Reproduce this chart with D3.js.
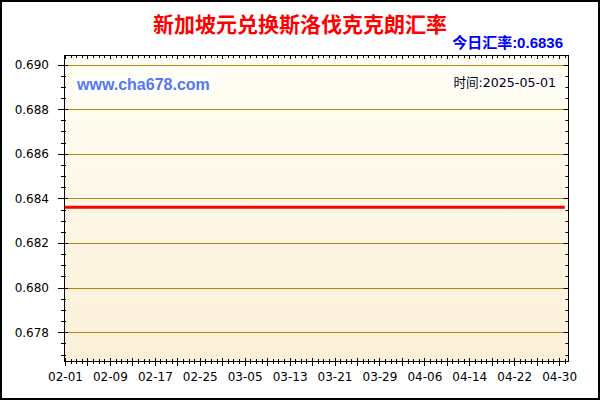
<!DOCTYPE html>
<html>
<head>
<meta charset="utf-8">
<script src="https://cdn.jsdelivr.net/npm/d3@7"></script>
<style>
	body { margin: 0; background: #fff; }
	svg { display: block; }
</style>
</head>
<body>
<div class="viz"></div>
<script>
// data
let titleText = '新加坡元兑换斯洛伐克克朗汇率';
let todayText = '今日汇率:0.6836';
let siteText = 'www.cha678.com';
let timeText = '时间:2025-05-01';

let rateDates = ['2025-02-01', '2025-02-09', '2025-02-17', '2025-02-25', '2025-03-05', '2025-03-13',
	'2025-03-21', '2025-03-29', '2025-04-06', '2025-04-14', '2025-04-22', '2025-04-30', '2025-05-01'];
let rateValues = [0.6836, 0.6836, 0.6836, 0.6836, 0.6836, 0.6836,
	0.6836, 0.6836, 0.6836, 0.6836, 0.6836, 0.6836, 0.6836];

let xTickLabels = ['02-01', '02-09', '02-17', '02-25', '03-05', '03-13',
	'03-21', '03-29', '04-06', '04-14', '04-22', '04-30'];
let yTickValues = [0.678, 0.680, 0.682, 0.684, 0.686, 0.688, 0.690];

let width = 600, height = 400;
let plot = {left: 64, right: 568, top: 55, bottom: 361};

let parseDay = d3.timeParse('%Y-%m-%d');
let data = rateDates.map(function(d, i) { return {date: parseDay(d), value: rateValues[i]}; });

let svg = d3.select('.viz').append('svg')
	.attr('width', width)
	.attr('height', height);

let x = d3.scaleTime()
	.domain([parseDay('2025-02-01'), d3.timeHour.offset(parseDay('2025-05-01'), 14)])
	.range([plot.left + 1, plot.right]);

let y = d3.scaleLinear()
	.domain([0.67671, 0.69043])
	.range([plot.bottom, plot.top]);

let grad = svg.append('defs').append('linearGradient')
	.attr('id', 'bg')
	.attr('x1', 0).attr('y1', 0).attr('x2', 0).attr('y2', 1);
grad.append('stop').attr('offset', '0%').attr('stop-color', '#fffef5');
grad.append('stop').attr('offset', '100%').attr('stop-color', '#fcf0d8');

svg.append('rect')
	.attr('x', plot.left)
	.attr('y', plot.top)
	.attr('width', plot.right - plot.left)
	.attr('height', plot.bottom - plot.top)
	.attr('fill', 'url(#bg)');

// grid lines
svg.append('g')
	.selectAll('line')
	.data(yTickValues)
	.enter().append('line')
	.attr('x1', plot.left)
	.attr('x2', plot.right)
	.attr('y1', function(d) { return Math.round(y(d)) + 0.5; })
	.attr('y2', function(d) { return Math.round(y(d)) + 0.5; })
	.attr('stroke', '#b8860b')
	.attr('stroke-width', 1);

// watermark and time boxes
svg.append('rect')
	.attr('x', 74).attr('y', 76).attr('width', 139).attr('height', 19)
	.attr('fill', '#fff');
svg.append('text')
	.attr('x', 77).attr('y', 90)
	.attr('font-family', 'Liberation Sans, Arial, sans-serif')
	.attr('font-weight', 'bold')
	.attr('font-size', '16px')
	.attr('fill', '#5577ee')
	.text(siteText);

svg.append('rect')
	.attr('x', 451).attr('y', 75).attr('width', 107).attr('height', 14)
	.attr('fill', '#fff');
svg.append('text')
	.attr('x', 556).attr('y', 87)
	.attr('text-anchor', 'end')
	.attr('font-family', 'DejaVu Sans, Noto Sans CJK SC, sans-serif')
	.attr('font-size', '12.6px')
	.attr('fill', '#000')
	.text(timeText);

// rate line
let line = d3.line()
	.x(function(d) { return x(d.date); })
	.y(function(d) { return y(d.value); });

svg.append('path')
	.datum(data)
	.attr('d', line)
	.attr('fill', 'none')
	.attr('stroke', '#ff0000')
	.attr('stroke-width', 3);

// frame
svg.append('rect')
	.attr('x', plot.left + 0.5)
	.attr('y', plot.top + 0.5)
	.attr('width', plot.right - plot.left)
	.attr('height', plot.bottom - plot.top)
	.attr('fill', 'none')
	.attr('stroke', '#000');

let days = d3.timeDay.range(parseDay('2025-02-01'), parseDay('2025-05-02'));
let minorY = d3.range(0.6770, 0.6905, 0.0005).filter(function(v) {
	return Math.abs(Math.round(v * 500) - v * 500) > 0.01;
});

let ticks = svg.append('g').attr('stroke', '#000').attr('stroke-width', 1);

// bottom: daily ticks crossing the axis, longer every 4 days
ticks.selectAll('.xb')
	.data(days)
	.enter().append('line')
	.attr('class', 'xb')
	.attr('x1', function(d) { return Math.round(x(d)) + 0.5; })
	.attr('x2', function(d) { return Math.round(x(d)) + 0.5; })
	.attr('y1', function(d, i) { return plot.bottom - (i % 4 === 0 ? 3 : 2); })
	.attr('y2', function(d, i) { return plot.bottom + (i % 4 === 0 ? 5 : 3); });

// top: daily ticks pointing in
ticks.selectAll('.xt')
	.data(days)
	.enter().append('line')
	.attr('class', 'xt')
	.attr('x1', function(d) { return Math.round(x(d)) + 0.5; })
	.attr('x2', function(d) { return Math.round(x(d)) + 0.5; })
	.attr('y1', plot.top)
	.attr('y2', function(d, i) { return plot.top + (i % 4 === 0 ? 4 : 3); });

// left ticks
ticks.selectAll('.yl')
	.data(yTickValues)
	.enter().append('line')
	.attr('class', 'yl')
	.attr('x1', plot.left - 6)
	.attr('x2', plot.left + 4)
	.attr('y1', function(d) { return Math.round(y(d)) + 0.5; })
	.attr('y2', function(d) { return Math.round(y(d)) + 0.5; });
ticks.selectAll('.ylm')
	.data(minorY)
	.enter().append('line')
	.attr('class', 'ylm')
	.attr('x1', plot.left - 3)
	.attr('x2', plot.left + 2)
	.attr('y1', function(d) { return Math.round(y(d)) + 0.5; })
	.attr('y2', function(d) { return Math.round(y(d)) + 0.5; });

// right ticks pointing in
ticks.selectAll('.yr')
	.data(yTickValues.concat(minorY))
	.enter().append('line')
	.attr('class', 'yr')
	.attr('x1', function(d) { return plot.right + 0.5 - (yTickValues.indexOf(d) >= 0 ? 5 : 3); })
	.attr('x2', plot.right + 0.5)
	.attr('y1', function(d) { return Math.round(y(d)) + 0.5; })
	.attr('y2', function(d) { return Math.round(y(d)) + 0.5; });

// axis labels
let yAxis = d3.axisLeft(y)
	.tickValues(yTickValues)
	.tickFormat(d3.format('.3f'))
	.tickSize(0)
	.tickPadding(15);

svg.append('g')
	.attr('transform', 'translate(' + plot.left + ',0)')
	.call(yAxis)
	.call(function(g) { g.select('.domain').remove(); })
	.selectAll('text')
	.attr('font-family', 'DejaVu Sans, sans-serif')
	.attr('font-size', '12px')
	.attr('fill', '#000');

let xAxis = d3.axisBottom(x)
	.tickValues(xTickLabels.map(function(t) { return parseDay('2025-' + t); }))
	.tickFormat(d3.timeFormat('%m-%d'))
	.tickSize(0)
	.tickPadding(11);

svg.append('g')
	.attr('transform', 'translate(0,' + plot.bottom + ')')
	.call(xAxis)
	.call(function(g) { g.select('.domain').remove(); })
	.selectAll('text')
	.attr('font-family', 'DejaVu Sans, sans-serif')
	.attr('font-size', '12px')
	.attr('fill', '#000');

// titles
svg.append('text')
	.attr('x', 300).attr('y', 32)
	.attr('text-anchor', 'middle')
	.attr('font-family', 'Noto Sans CJK SC, sans-serif')
	.attr('font-weight', 'bold')
	.attr('font-size', '21px')
	.attr('fill', '#ff0000')
	.text(titleText);

svg.append('text')
	.attr('x', 563).attr('y', 48)
	.attr('text-anchor', 'end')
	.attr('font-family', 'Liberation Sans, Noto Sans CJK SC, sans-serif')
	.attr('font-weight', 'bold')
	.attr('font-size', '15px')
	.attr('fill', '#0000ff')
	.text(todayText);

// outer border
svg.append('rect')
	.attr('x', 1).attr('y', 1)
	.attr('width', width - 2).attr('height', height - 2)
	.attr('fill', 'none')
	.attr('stroke', '#000')
	.attr('stroke-width', 2);
</script>
</body>
</html>
